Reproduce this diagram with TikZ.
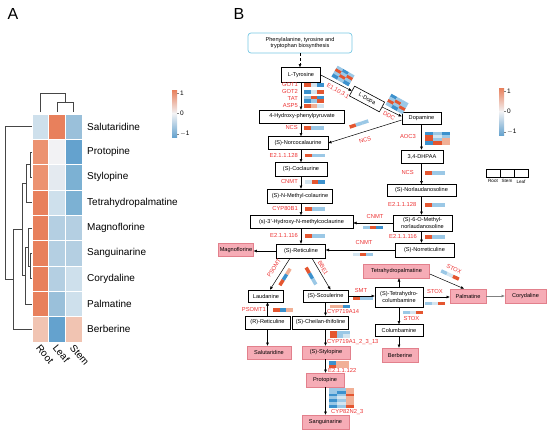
\documentclass[tikz,border=0pt]{standalone}
\usepackage{fontspec}
\setmainfont{Liberation Sans}
\usepackage{tikz}
\usetikzlibrary{positioning, arrows.meta}

% heatmap colours (panel A)
\definecolor{hmO}{RGB}{232,128,92}
\definecolor{hmOm}{RGB}{236,146,112}
\definecolor{hmOl}{RGB}{241,196,178}
\definecolor{hmW}{RGB}{242,242,244}
\definecolor{hmWb}{RGB}{228,234,240}
\definecolor{hmB0}{RGB}{206,224,236}
\definecolor{hmB1}{RGB}{180,207,226}
\definecolor{hmB2}{RGB}{154,192,218}
\definecolor{hmB3}{RGB}{124,177,211}
\definecolor{hmB4}{RGB}{100,162,206}
% strip colours (panel B)
\definecolor{sr}{RGB}{228,86,48}
\definecolor{lo}{RGB}{241,176,150}
\definecolor{sb}{RGB}{60,145,205}
\definecolor{lb}{RGB}{155,200,230}
\definecolor{wb}{RGB}{212,229,240}
\definecolor{enzred}{RGB}{236,50,50}
\definecolor{pinkfill}{RGB}{246,172,182}
\definecolor{pinkline}{RGB}{226,128,140}
\definecolor{startline}{RGB}{120,200,228}
\definecolor{dendgray}{RGB}{70,70,70}

\newcommand{\fsA}{\fontsize{10}{12}\selectfont}
\newcommand{\fsB}{\fontsize{5.6}{6.3}\selectfont}

% one row of a mini heatmap: top-left corner, then Root/Stem/Leaf colours
\newcommand{\hmstrip}[4]{%
  \begin{scope}[shift={(#1)}]
    \fill[#2] (0,0) rectangle (6.5,3.5);
    \fill[#3] (6.5,0) rectangle (13,3.5);
    \fill[#4] (13,0) rectangle (19.5,3.5);
  \end{scope}}

\begin{document}
\begin{tikzpicture}[x=1pt, y=-1pt,
    hmcell/.style={draw=white, line width=0.8pt, minimum width=16.67pt, minimum height=25.33pt, inner sep=0pt, outer sep=0pt},
    rowlab/.style={anchor=west, font=\fsA, inner sep=0pt},
    collab/.style={anchor=west, rotate=-50, font=\fsA, inner sep=0pt},
    dendro/.style={draw=dendgray, line width=0.8pt},
    box/.style={draw, line width=0.6pt, fill=white, font=\fsB, inner sep=1.2pt, align=center},
    pinkbox/.style={box, fill=pinkfill, draw=pinkline},
    enz/.style={font=\fontsize{5.8}{6}\selectfont, text=enzred, inner sep=0pt},
    arr/.style={-{Triangle[length=3.2pt, width=2.6pt]}, line width=0.5pt},
    legcell/.style={draw, line width=0.5pt, minimum width=14pt, minimum height=8pt, inner sep=0pt, outer sep=0pt},
    ticklab/.style={anchor=west, font=\fontsize{6.5}{7}\selectfont, inner sep=0.5pt},
    panel/.style={font=\fontsize{16}{17}\selectfont, inner sep=0pt}
]
    \useasboundingbox (0,0) rectangle (550,434);

    % panel A: heatmap
    \node[panel] (pa) at (13,14) {A};
    \foreach \nm/\ca/\cb/\cc [count=\i from 0] in {
        Salutaridine/hmB0/hmO/hmB2, Protopine/hmOm/hmW/hmB4, Stylopine/hmOm/hmWb/hmB3,
        Tetrahydropalmatine/hmO/hmB0/hmB3, Magnoflorine/hmO/hmB1/hmB1, Sanguinarine/hmO/hmB1/hmB1,
        Corydaline/hmO/hmB1/hmB0, Palmatine/hmO/hmB2/hmB0, Berberine/hmOl/hmB4/hmOl} {
        \node[hmcell, fill=\ca] (h\i a) at (40.33, {114+25.33*(\i+0.5)}) {};
        \node[hmcell, fill=\cb] (h\i b) at (57, {114+25.33*(\i+0.5)}) {};
        \node[hmcell, fill=\cc] (h\i c) at (73.67, {114+25.33*(\i+0.5)}) {};
        \node[rowlab] (lab\i) at (87, {114+25.33*(\i+0.5)}) {\nm};
    }
    \node[collab] (croot) at (38,346) {Root};
    \node[collab] (cleaf) at (55,346) {Leaf};
    \node[collab] (cstem) at (72,346) {Stem};

    % dendrograms
    \draw[dendro] (40.33,112) -- (40.33,93) -- (65.33,93) -- (65.33,102);
    \draw[dendro] (57,112) -- (57,102) -- (73.67,102) -- (73.67,112);
    \draw[dendro] (32,152) -- (30,152) -- (30,177.3) -- (32,177.3);
    \draw[dendro] (30,164.7) -- (26,164.7) -- (26,202.7) -- (32,202.7);
    \draw[dendro] (32,253.3) -- (30,253.3) -- (30,278.7) -- (32,278.7);
    \draw[dendro] (32,228) -- (28,228) -- (28,266) -- (30,266);
    \draw[dendro] (28,247) -- (25,247) -- (25,304) -- (32,304);
    \draw[dendro] (26,183.7) -- (22,183.7) -- (22,275.5) -- (25,275.5);
    \draw[dendro] (22,229.6) -- (13,229.6) -- (13,329.3) -- (32,329.3);
    \draw[dendro] (13,279.5) -- (5,279.5) -- (5,126.7) -- (32,126.7);

    % colour keys
    \foreach \kx/\ky in {172/90, 499/88} {
        \shade[top color=hmO, bottom color=hmW] (\kx,\ky) rectangle (\kx+5,\ky+23.5);
        \shade[top color=hmW, bottom color=hmB4] (\kx,\ky+23.5) rectangle (\kx+5,\ky+47.5);
        \draw[gray, line width=0.4pt] (\kx+5,\ky+3) -- (\kx+7,\ky+3) (\kx+5,\ky+23.5) -- (\kx+7,\ky+23.5) (\kx+5,\ky+44) -- (\kx+7,\ky+44);
        \node[ticklab] at (\kx+7.5,\ky+3) {1};
        \node[ticklab] at (\kx+7.5,\ky+23.5) {0};
        \node[ticklab] at (\kx+7.5,\ky+44) {$-$1};
    }

    % panel B: pathway
    \node[panel] (pb) at (239,14) {B};
    \node[box, draw=startline, rounded corners=3pt, line width=0.7pt, minimum width=104pt, minimum height=20pt] (phe) at (300,43) {Phenylalanine, tyrosine and\\tryptophan biosynthesis};
    \node[box, minimum width=39pt, minimum height=15pt] (tyr) at (301,75) {L-Tyrosine};
    \node[box, minimum width=85pt, minimum height=13pt] (hpp) at (302,116.5) {4-Hydroxy-phenylpyruvate};
    \node[box, minimum width=60pt, minimum height=13pt] (ncl) at (298,143) {(S)-Norcocalaurine};
    \node[box, minimum width=52pt, minimum height=14pt] (col) at (301,169.5) {(S)-Coclaurine};
    \node[box, minimum width=65pt, minimum height=14pt] (nmc) at (300,196) {(S)-N-Methyl-colaurine};
    \node[box, minimum width=103pt, minimum height=13pt] (hnm) at (301.5,222) {(s)-3'-Hydroxy-N-methylcoclaurine};
    \node[box, minimum width=49pt, minimum height=14pt] (ret) at (301,251) {(S)-Reticuline};

    \node[box, rotate=-28, minimum width=34pt, minimum height=11pt] (dopa) at (367,99) {L-Dopa};
    \node[box, minimum width=39pt, minimum height=12pt] (dpm) at (421.5,118) {Dopamine};
    \node[box, minimum width=42pt, minimum height=13pt] (dhp) at (422,156.5) {3,4-DHPAA};
    \node[box, minimum width=69pt, minimum height=12pt] (nla) at (421.5,190.5) {(S)-Norlaudanosoline};
    \node[box, minimum width=59pt, minimum height=16pt] (omn) at (422.5,223) {(S)-6-O-Methyl-\\norlaudanosoline};
    \node[box, minimum width=59pt, minimum height=14pt] (nrt) at (424.5,250) {(S)-Norreticuline};

    \node[pinkbox, minimum width=33pt, minimum height=13pt] (mag) at (236,250) {Magnoflorine};
    \node[box, minimum width=35pt, minimum height=12pt] (lau) at (266,296) {Laudanine};
    \node[box, minimum width=45pt, minimum height=12pt] (sco) at (325.5,296) {(S)-Scoulerine};
    \node[box, minimum width=45pt, minimum height=13pt] (rrt) at (267.5,322.5) {(R)-Reticuline};
    \node[box, minimum width=56pt, minimum height=13pt] (che) at (320.5,322.5) {(S)-Cheilan-thifoline};
    \node[pinkbox, minimum width=44pt, minimum height=13pt] (sal) at (269,352.5) {Salutaridine};
    \node[pinkbox, minimum width=48pt, minimum height=13pt] (sty) at (326,352.5) {(S)-Stylopine};
    \node[pinkbox, minimum width=38pt, minimum height=14pt] (pro) at (325,380) {Protopine};
    \node[pinkbox, minimum width=47pt, minimum height=14pt] (san) at (325.5,422) {Sanguinarine};
    \node[box, minimum width=48pt, minimum height=20pt] (thc) at (399,297) {(S)-Tetrahydro-\\columbamine};
    \node[pinkbox, minimum width=66pt, minimum height=14pt] (thp) at (396.5,271) {Tetrahydropalmatine};
    \node[pinkbox, minimum width=36pt, minimum height=14pt] (pal) at (468,296) {Palmatine};
    \node[pinkbox, minimum width=41pt, minimum height=14pt] (cor) at (525.5,296) {Corydaline};
    \node[box, minimum width=48pt, minimum height=12pt] (clb) at (399,330.5) {Columbamine};
    \node[pinkbox, minimum width=36pt, minimum height=14pt] (ber) at (400,355) {Berberine};

    % connectors
    \draw[arr, densely dashed] (phe.south) -- (phe.south |- tyr.north);
    \foreach \a/\b in {tyr/hpp, hpp/ncl, ncl/col, col/nmc, nmc/hnm, hnm/ret}
        \draw[arr] (tyr.south |- \a.south) -- (tyr.south |- \b.north);
    \foreach \a/\b in {dpm/dhp, dhp/nla, nla/omn, omn/nrt}
        \draw[arr] (dpm.south |- \a.south) -- (dpm.south |- \b.north);
    \draw[arr] (tyr.east) -- (dopa.west);
    \draw[arr] (dopa.east) -- ([yshift=1.5pt]dpm.west);
    \draw[arr] ([yshift=-2pt]dpm.west) -- (ncl.east);
    \draw[arr] (omn.west) -- (omn.west -| hnm.east);
    \draw[arr] (nrt.west) -- (nrt.west -| ret.east);
    \draw[arr] (ret.west) -- (ret.west -| mag.east);
    \draw[arr] ([xshift=-11pt]ret.south) -- ([xshift=4pt]lau.north);
    \draw[arr] ([xshift=11pt]ret.south) -- ([xshift=5pt]sco.north);
    \draw[arr] (sco.east) -- (sco.east -| thc.west);
    \draw[arr] (sco.south) -- (sco.south |- che.north);
    \draw[arr] (rrt.north) -- (rrt.north |- lau.south);
    \draw[arr] (rrt.south) -- (rrt.south |- sal.north);
    \draw[arr] (sco.south |- che.south) -- (sco.south |- sty.north);
    \draw[arr] (sco.south |- sty.south) -- (sco.south |- pro.north);
    \draw[arr] (sco.south |- pro.south) -- (sco.south |- san.north);
    \draw[arr] (thc.north) -- (thc.north |- thp.south);
    \draw[arr] ([yshift=-3pt]thp.east) -- ([xshift=-4pt]pal.north);
    \draw[arr] (thc.east) -- (thc.east -| pal.west);
    \draw[arr, draw=gray, line width=1pt] (pal.east) -- (cor.west);
    \draw[arr] (thc.south) -- (thc.south |- clb.north);
    \draw[arr] (clb.south) -- (clb.south |- ber.north);

    % enzymes
    \node[enz, anchor=east] (got1) at (298,85) {GOT1};
    \node[enz, anchor=east] (got2) at (298,92) {GOT2};
    \node[enz, anchor=east] (tat) at (298,99) {TAT};
    \node[enz, anchor=east] (asp5) at (298,106) {ASP5};
    \node[enz, anchor=east] (ncsa) at (298,128) {NCS};
    \node[enz, anchor=east] (mta) at (298,155.5) {E2.1.1.128};
    \node[enz, anchor=east] (cnmta) at (298,182) {CNMT};
    \node[enz, anchor=east] (cyp80) at (298,209) {CYP80B1};
    \node[enz, anchor=east] (mtb) at (298,236) {E2.1.1.116};
    \node[enz, anchor=east] (aoc) at (416,137) {AOC3};
    \node[enz, anchor=east] (ncsb) at (414,173) {NCS};
    \node[enz, anchor=east] (mtc) at (416.5,205) {E2.1.1.128};
    \node[enz, anchor=east] (mtd) at (417,237) {E2.1.1.116};
    \node[enz] (cnmtb) at (375,217) {CNMT};
    \node[enz] (cnmtc) at (364,243) {CNMT};
    \node[enz, rotate=-30] (e1103) at (338,91) {E1.10.3.1};
    \node[enz, rotate=-29] (ddc) at (389,116) {DDC};
    \node[enz, rotate=18] (ncsc) at (365,140) {NCS};
    \node[enz, rotate=58] (psomt) at (274,268) {PSOMT};
    \node[enz, rotate=-60] (bbe) at (323,268) {BBE1};
    \node[enz] (smt) at (361,290.5) {SMT};
    \node[enz, anchor=west] (cyp14) at (327,312) {CYP719A14};
    \node[enz, anchor=east] (psomt1) at (266,310) {PSOMT1};
    \node[enz] (stoxa) at (435,292) {STOX};
    \node[enz, rotate=-25] (stoxb) at (454,269) {STOX};
    \node[enz] (stoxc) at (411.5,319) {STOX};
    \node[enz, anchor=west] (cyp13) at (327,342) {CYP719A1\_2\_3\_13};
    \node[enz, anchor=west] (mte) at (328,370) {E2.1.1.122};
    \node[enz, anchor=west] (cyp82) at (331,412) {CYP82N2\_3};

    % mini heatmaps
    \hmstrip{304,83.2}{sr}{wb}{sb}
    \hmstrip{304,90.2}{sb}{wb}{sr}
    \hmstrip{304,96}{lb}{sr}{sb}
    \hmstrip{304,99.2}{sb}{lb}{sr}
    \hmstrip{304,104.3}{sr}{lo}{wb}
    \hmstrip{304,126.3}{sr}{lb}{lb}
    \hmstrip{305,153.7}{sr}{lb}{lb}
    \hmstrip{305,180.3}{wb}{sr}{sb}
    \hmstrip{305,207.3}{sr}{lb}{lb}
    \hmstrip{305,234.3}{sr}{lb}{lb}
    \hmstrip{425,171.3}{sr}{lb}{lb}
    \hmstrip{425,203.3}{sr}{lb}{lb}
    \hmstrip{425,235.3}{sr}{lb}{lb}
    \hmstrip{363,225.5}{lb}{sr}{sb}
    \hmstrip{353,252.5}{wb}{sr}{lb}
    \hmstrip{353,296.5}{sr}{lb}{lb}
    \hmstrip{330,304.5}{lo}{lo}{sb}
    \hmstrip{273,308.3}{sr}{sb}{lo}
    \hmstrip{425,301.5}{lb}{wb}{sr}
    \hmstrip{403,310.5}{lb}{wb}{sr}
    \hmstrip{330,330.5}{sr}{lb}{lb}
    \hmstrip{330,334}{sr}{lb}{wb}
    \hmstrip{329,361}{sb}{lo}{lo}
    \hmstrip{329,364.5}{sr}{lo}{lo}
    \begin{scope}[shift={(425,132)}, xscale=1.28]
        \hmstrip{0,0}{sb}{lb}{sb}
        \hmstrip{0,3}{sr}{wb}{lb}
        \hmstrip{0,6}{sr}{lb}{lo}
        \hmstrip{0,9}{sb}{sr}{lo}
    \end{scope}
    \begin{scope}[shift={(329,388)}, xscale=1.28]
        \hmstrip{0,0}{lb}{lb}{lo}
        \hmstrip{0,2.8}{lb}{sb}{lo}
        \hmstrip{0,5.6}{sb}{lb}{sr}
        \hmstrip{0,8.4}{lb}{wb}{lo}
        \hmstrip{0,11.2}{sb}{lb}{lo}
        \hmstrip{0,14}{lb}{wb}{lo}
        \hmstrip{0,16.8}{sb}{lb}{sr}
    \end{scope}
    \begin{scope}[shift={(343,76)}, rotate=-30]
        \hmstrip{-9.75,-6.25}{lb}{sb}{lb}
        \hmstrip{-9.75,-3.25}{sr}{lb}{sr}
        \hmstrip{-9.75,-0.25}{lb}{sr}{lb}
        \hmstrip{-9.75,2.75}{sb}{lb}{sb}
    \end{scope}
    \begin{scope}[shift={(397,104)}, rotate=-29]
        \hmstrip{-9.75,-6.25}{sb}{lb}{lb}
        \hmstrip{-9.75,-3.25}{lb}{sr}{lb}
        \hmstrip{-9.75,-0.25}{sr}{lb}{sr}
        \hmstrip{-9.75,2.75}{lb}{sb}{lb}
    \end{scope}
    \begin{scope}[shift={(359,124)}, rotate=18]
        \hmstrip{-9.75,-1.75}{sr}{lb}{lb}
    \end{scope}
    \begin{scope}[shift={(285,277)}, rotate=58]
        \hmstrip{-9.75,-1.75}{sr}{sb}{lo}
    \end{scope}
    \begin{scope}[shift={(311,276)}, rotate=-60]
        \hmstrip{-9.75,-1.75}{sr}{sb}{lb}
    \end{scope}
    \begin{scope}[shift={(450,275)}, rotate=-25]
        \hmstrip{-9.75,-1.75}{lb}{wb}{sr}
    \end{scope}

    % legend for the mini heatmaps
    \node[legcell] (lgr) at (493,173) {};
    \node[legcell, right=0pt of lgr] (lgs) {};
    \node[legcell, right=0pt of lgs] (lgl) {};
    \node[below=2.5pt of lgr, font=\fontsize{4.6}{5}\selectfont, inner sep=0pt] (tr) {Root};
    \node[below=2.5pt of lgs, font=\fontsize{4.6}{5}\selectfont, inner sep=0pt] (ts) {Stem};
    \node[below=2.5pt of lgl, font=\fontsize{4.6}{5}\selectfont, inner sep=0pt] (tl) {Leaf};
\end{tikzpicture}
\end{document}
